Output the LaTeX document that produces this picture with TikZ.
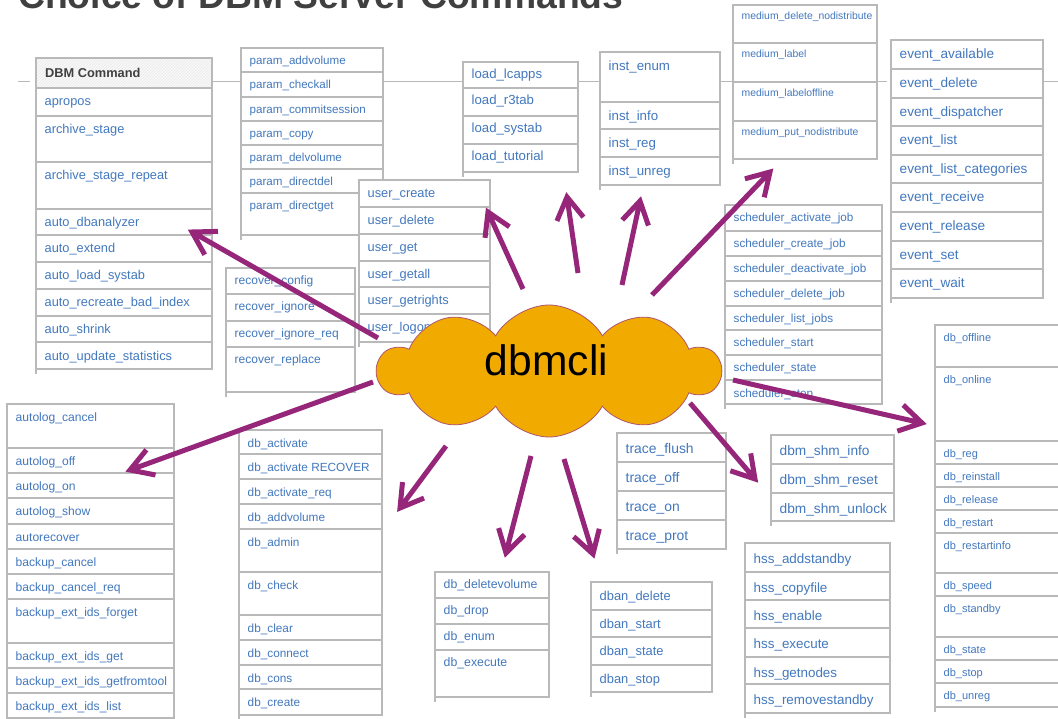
\documentclass[tikz,border=0pt]{standalone}
\usepackage{fontspec}
\setmainfont{Liberation Sans}
\usetikzlibrary{arrows.meta,shapes.symbols,patterns,calc}

\definecolor{cmdblue}{RGB}{66,120,190}
\definecolor{gridgray}{RGB}{185,185,185}
\definecolor{arrowpurple}{RGB}{150,38,122}
\definecolor{cloudfill}{RGB}{240,170,0}
\definecolor{cloudline}{RGB}{175,85,110}
\definecolor{titlegray}{RGB}{64,64,64}

\tikzset{
  cell/.style={draw=gridgray, line width=1.2pt, fill=white, rectangle, inner sep=0pt, outer sep=0pt},
  celltext/.style={text=cmdblue, inner sep=0pt, anchor=base west},
  tabline/.style={draw=gridgray, line width=1.2pt},
  chainline/.style={draw=gridgray, line width=1pt},
  callout/.style={draw=arrowpurple, line width=5pt, line cap=butt, line join=miter},
}

% #1 name, #2 left, #3 right, #4 top, #5 font size, #6 baseline offset, #7 bottom/label rows
\newcommand\cmdtab[7]{%
  \foreach \yb/\lab [remember=\yb as \ya (initially #4), count=\i] in {#7} {
    \node[cell, minimum width={#3-#2}, minimum height={\yb-\ya}, anchor=north west] (#1-\i) at (#2,\ya) {};
    \node[celltext, font=\fontsize{#5}{#5}\selectfont] at ([xshift=8.5pt,yshift=-#6pt]#1-\i.north west) {\lab};
    \draw[tabline] (#2,\yb) -- ++(0,5);
  }%
}

\begin{document}
\catcode`\_=12
\begin{tikzpicture}[x=1pt,y=-1pt]
\fill[white] (0,0) rectangle (1058,719);
\useasboundingbox (0,0) rectangle (1058,719);

% heading, cut by the top edge
\node[anchor=base west, inner sep=0pt, text=titlegray,
  font=\bfseries\fontsize{37.3}{37.3}\selectfont] (title) at (18,9) {Choice of DBM Server Commands};

% thin line linking the top row of tables
\draw[chainline] (18,82) -- (30,82);
\draw[chainline] (212,82) -- (241,82);
\draw[chainline] (383,82) -- (463,82);
\draw[chainline] (578,82) -- (600,82);
\draw[chainline] (720,82) -- (733,82);
\draw[chainline] (877,82) -- (887,82);
\draw[chainline] (1043,82) -- (1058,82);

% DBM Command table with hatched header
\node[cell, fill=gray!5, minimum width=176, minimum height=30, anchor=north west] (dbmhead) at (36,58) {};
\fill[pattern=north east lines, pattern color=gray!18] (dbmhead.south west) rectangle (dbmhead.north east);
\draw[tabline] (dbmhead.south west) rectangle (dbmhead.north east);
\node[anchor=base west, inner sep=0pt, text=titlegray, font=\bfseries\fontsize{12.8}{12.8}\selectfont] (dbmtitle) at (45,78) {DBM Command};
\cmdtab{dbm}{36}{212}{88}{12.8}{18}{116/apropos, 162/archive_stage, 209/archive_stage_repeat, 235/auto_dbanalyzer, 262/auto_extend, 289/auto_load_systab, 316/auto_recreate_bad_index, 342/auto_shrink, 369/auto_update_statistics}

\cmdtab{param}{241}{383}{48}{11.6}{17}{72/param_addvolume, 97/param_checkall, 121/param_commitsession, 145/param_copy, 169/param_delvolume, 193/param_directdel, 235/param_directget}

\cmdtab{recover}{226}{355}{268}{12.0}{17}{294/recover_config, 321/recover_ignore, 347/recover_ignore_req, 392/recover_replace}

\cmdtab{user}{359}{490}{180}{12.8}{18}{207/user_create, 234/user_delete, 261/user_get, 287/user_getall, 314/user_getrights, 342/user_logon}

\cmdtab{load}{463}{578}{62}{13.2}{17}{88/load_lcapps, 116/load_r3tab, 144/load_systab, 172/load_tutorial}

\cmdtab{inst}{600}{720}{52}{13.3}{19}{102/inst_enum, 129/inst_info, 157/inst_reg, 185/inst_unreg}

\cmdtab{medium}{733}{877}{5}{10.4}{15}{43/medium_delete_nodistribute, 82/medium_label, 121/medium_labeloffline, 159/medium_put_nodistribute}

\cmdtab{event}{891}{1043}{40}{13.6}{19}{69/event_available, 98/event_delete, 126/event_dispatcher, 155/event_list, 183/event_list_categories, 212/event_receive, 241/event_release, 269/event_set, 298/event_wait}

\cmdtab{sched}{725}{882}{205}{11.7}{17}{231/scheduler_activate_job, 256/scheduler_create_job, 281/scheduler_deactivate_job, 306/scheduler_delete_job, 330/scheduler_list_jobs, 355/scheduler_start, 380/scheduler_state, 404/scheduler_stop}

\cmdtab{dbstate}{935}{1075}{325}{11.0}{16.5}{367/db_offline, 441/db_online, 464/db_reg, 487/db_reinstall, 510/db_release, 533/db_restart, 573/db_restartinfo, 596/db_speed, 637/db_standby, 660/db_state, 683/db_stop, 707/db_unreg}

\cmdtab{autolog}{7}{174}{404}{12.1}{17}{448/autolog_cancel, 473/autolog_off, 498/autolog_on, 524/autolog_show, 549/autorecover, 574/backup_cancel, 599/backup_cancel_req, 643/backup_ext_ids_forget, 668/backup_ext_ids_get, 693/backup_ext_ids_getfromtool, 718/backup_ext_ids_list}

\cmdtab{dbact}{239}{382}{430}{11.8}{17}{454/db_activate, 479/db_activate RECOVER, 504/db_activate_req, 529/db_addvolume, 572/db_admin, 615/db_check, 640/db_clear, 665/db_connect, 689/db_cons, 715/db_create}

\cmdtab{dbdel}{435}{549}{572}{12.3}{16}{598/db_deletevolume, 624/db_drop, 650/db_enum, 697/db_execute}

\cmdtab{dban}{591}{712}{582}{12.9}{18}{610/dban_delete, 637/dban_start, 665/dban_state, 692/dban_stop}

\cmdtab{trace}{617}{726}{433}{13.9}{20}{462/trace_flush, 491/trace_off, 520/trace_on, 549/trace_prot}

\cmdtab{shm}{771}{894}{435}{13.7}{20}{464/dbm_shm_info, 493/dbm_shm_reset, 521/dbm_shm_unlock}

\cmdtab{hss}{745}{890}{543}{13.4}{20}{572/hss_addstandby, 600/hss_copyfile, 628/hss_enable, 657/hss_execute, 684/hss_getnodes, 713/hss_removestandby}

% central cloud
\node[cloud, cloud puffs=10, cloud puff arc=120, aspect=2.6, fill=cloudfill, draw=cloudline,
  line width=0.8pt, minimum width=342, minimum height=132] (cloud) at (549,371) {};
\node[anchor=base, inner sep=0pt, font=\fontsize{42.6}{42.6}\selectfont] (cli) at (546.5,376) {dbmcli};

% arrows out of the cloud: shaft plus two barbs of equal weight
\coordinate (a1s) at (378,338);  \coordinate (a1t) at (192,232);
\coordinate (a2s) at (523,289);  \coordinate (a2t) at (488,212);
\coordinate (a3s) at (578,273);  \coordinate (a3t) at (567,197);
\coordinate (a4s) at (622,285);  \coordinate (a4t) at (640,201);
\coordinate (a5s) at (652,295);  \coordinate (a5t) at (770,172);
\coordinate (a6s) at (733,380);  \coordinate (a6t) at (922,423);
\coordinate (a7s) at (690,403);  \coordinate (a7t) at (755,479);
\coordinate (a8s) at (564,459);  \coordinate (a8t) at (593,554);
\coordinate (a9s) at (531,456);  \coordinate (a9t) at (506,553);
\coordinate (a10s) at (446,446); \coordinate (a10t) at (400,508);
\coordinate (a11s) at (373,382); \coordinate (a11t) at (130,470);
\foreach \k in {1,...,11} {
  \draw[callout] (a\k s) -- ($(a\k t)!2pt!(a\k s)$)
    ($(a\k t)!26pt!31:(a\k s)$) -- (a\k t) -- ($(a\k t)!26pt!-31:(a\k s)$);
}
\end{tikzpicture}
\end{document}
